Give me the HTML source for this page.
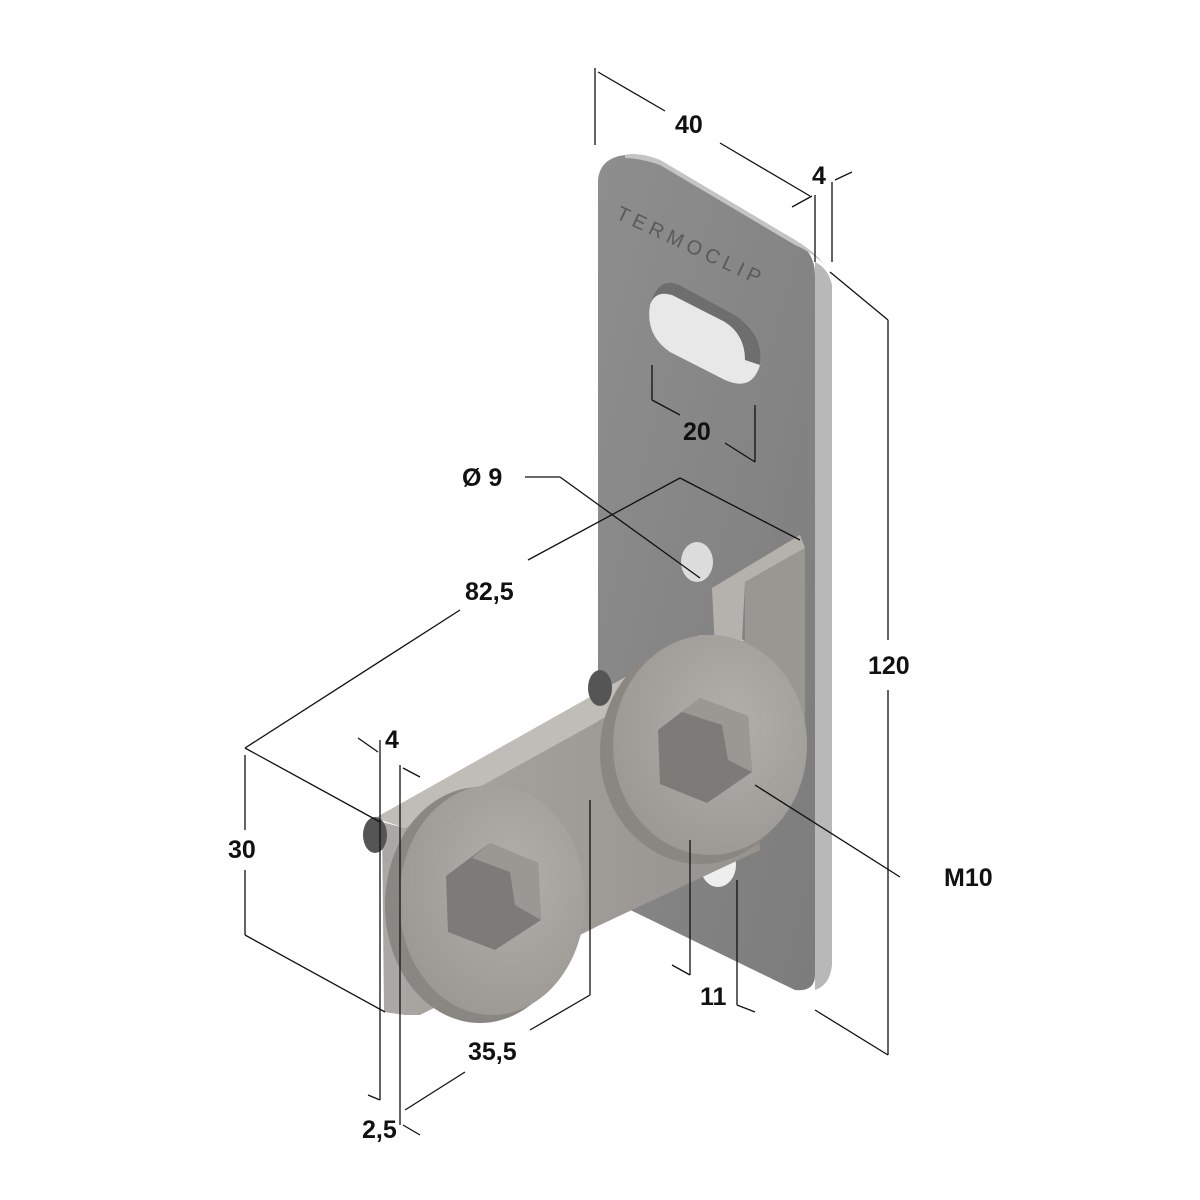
<!DOCTYPE html>
<html><head><meta charset="utf-8"><style>
html,body{margin:0;padding:0;background:#fff;}
svg{display:block;}
text{font-family:"Liberation Sans",sans-serif;font-size:25px;fill:#111;font-weight:bold;}
</style></head><body>
<svg width="1200" height="1200" viewBox="0 0 1200 1200" xmlns="http://www.w3.org/2000/svg">
<defs>
<linearGradient id="pl" x1="0" y1="0" x2="1" y2="1">
<stop offset="0" stop-color="#8e8e8e"/><stop offset="1" stop-color="#7c7c7c"/></linearGradient>
<linearGradient id="ar" x1="0" y1="0" x2="1" y2="0">
<stop offset="0" stop-color="#a8a4a0"/><stop offset="1" stop-color="#96928e"/></linearGradient>
<radialGradient id="ws" cx="0.6" cy="0.4" r="0.7">
<stop offset="0" stop-color="#b2aeaa"/><stop offset="1" stop-color="#9a9692"/></radialGradient>
</defs>
<path d="M815,262 Q828,268 832,285 L832,965 Q830,985 815,990 Z" fill="#b8b8b8"/>
<path d="M625,155 Q640,152 660,160 L795,240 Q815,252 815,275 L815,975 Q815,992 795,990 L620,905 Q598,895 598,875 L598,180 Q600,158 625,155 Z" fill="url(#pl)"/>
<path d="M625,155 Q640,152 660,160 L795,240 Q815,252 822,262 L828,268 Q812,252 795,245 L660,165 Q640,158 625,158 Z" fill="#c4c4c4"/>
<text x="615" y="218" transform="rotate(25 615 218)" style="font-size:20px;fill:#5a5a5a;letter-spacing:5px;font-weight:normal">TERMOCLIP</text>
<path d="M680,285 L735,315 Q765,335 760,365 Q752,392 725,380 L670,352 Q645,335 650,305 Q658,275 680,285 Z" fill="#e8e8e8"/>
<path d="M680,285 L735,315 Q765,335 760,365 L745,360 Q745,335 725,322 L672,295 Q655,290 650,305 Q658,275 680,285 Z" fill="#6e6e6e"/>
<ellipse cx="718" cy="865" rx="18" ry="22" fill="#eeeeee"/>
<ellipse cx="697" cy="562" rx="16" ry="20" fill="#dcdcdc"/>
<path d="M712,588 L800,535 L805,548 L745,582 L742,640 L715,650 Z" fill="#b5b1ad"/>
<path d="M745,582 L805,548 L805,720 L745,760 Z" fill="#9a9692"/>
<path d="M375,818 L700,635 L745,640 L405,828 Z" fill="#c0bdb9"/>
<path d="M405,828 L745,640 L760,850 L600,925 L420,1015 L405,1015 Z" fill="url(#ar)"/>
<path d="M382,822 L405,828 L405,1015 L384,1012 Z" fill="#aaa7a4"/>
<ellipse cx="375" cy="835" rx="12" ry="18" fill="#555"/>
<ellipse cx="600" cy="688" rx="12" ry="18" fill="#555"/>
<ellipse cx="700" cy="752" rx="100" ry="112" fill="#8a8682"/>
<ellipse cx="710" cy="745" rx="97" ry="110" fill="url(#ws)"/>
<polygon points="700,698 748,716 752,772 707,803 660,784 658,730" fill="#7d7a77"/>
<polygon points="700,698 748,716 752,772 728,760 722,725 682,712" fill="#9b9894"/>
<ellipse cx="480" cy="905" rx="95" ry="118" fill="#8a8682"/>
<ellipse cx="492" cy="900" rx="93" ry="115" fill="url(#ws)"/>
<polygon points="490,843 538,863 541,920 495,950 448,932 446,876" fill="#7d7a77"/>
<polygon points="490,843 538,863 541,920 515,905 510,872 472,858" fill="#9b9894"/>
<g stroke="#111" stroke-width="1.3" fill="none">
<line x1="595" y1="68" x2="595" y2="145"/>
<line x1="598" y1="72" x2="665" y2="111"/><line x1="720" y1="143" x2="810" y2="196"/>
<line x1="815" y1="195" x2="815" y2="262"/><line x1="832" y1="182" x2="832" y2="262"/>
<line x1="792" y1="207" x2="812" y2="196"/><line x1="835" y1="180" x2="852" y2="172"/>
<line x1="830" y1="272" x2="888" y2="320"/><line x1="888" y1="320" x2="888" y2="640"/><line x1="888" y1="690" x2="888" y2="1055"/>
<line x1="815" y1="1010" x2="888" y2="1055"/>
<line x1="652" y1="365" x2="652" y2="400"/><line x1="652" y1="400" x2="680" y2="415"/><line x1="725" y1="443" x2="755" y2="462"/>
<line x1="755" y1="405" x2="755" y2="462"/>
<line x1="525" y1="477" x2="560" y2="477"/><line x1="560" y1="477" x2="700" y2="578"/>
<line x1="680" y1="478" x2="800" y2="540"/>
<line x1="680" y1="478" x2="528" y2="560"/><line x1="460" y1="610" x2="245" y2="748"/>
<line x1="245" y1="748" x2="380" y2="822"/>
<line x1="245" y1="755" x2="245" y2="830"/><line x1="245" y1="870" x2="245" y2="935"/>
<line x1="245" y1="935" x2="385" y2="1012"/>
<line x1="380" y1="740" x2="380" y2="1100"/><line x1="400" y1="765" x2="400" y2="1125"/>
<line x1="358" y1="738" x2="378" y2="752"/><line x1="403" y1="768" x2="420" y2="777"/>
<line x1="368" y1="1095" x2="380" y2="1100"/><line x1="403" y1="1125" x2="420" y2="1135"/>
<line x1="590" y1="800" x2="590" y2="995"/><line x1="590" y1="995" x2="530" y2="1030"/><line x1="465" y1="1072" x2="405" y2="1110"/>
<line x1="690" y1="840" x2="690" y2="975"/><line x1="672" y1="965" x2="690" y2="975"/>
<line x1="737" y1="880" x2="737" y2="1005"/><line x1="737" y1="1005" x2="755" y2="1012"/>
<line x1="900" y1="877" x2="755" y2="785"/>
</g>
<g fill="#111">
<text x="675" y="133">40</text>
<text x="812" y="184">4</text>
<text x="868" y="674">120</text>
<text x="683" y="440">20</text>
<text x="462" y="486">Ø 9</text>
<text x="465" y="600">82,5</text>
<text x="385" y="748">4</text>
<text x="228" y="858">30</text>
<text x="468" y="1060">35,5</text>
<text x="362" y="1138">2,5</text>
<text x="700" y="1005">11</text>
<text x="944" y="886">M10</text>
</g>
</svg>
</body></html>
